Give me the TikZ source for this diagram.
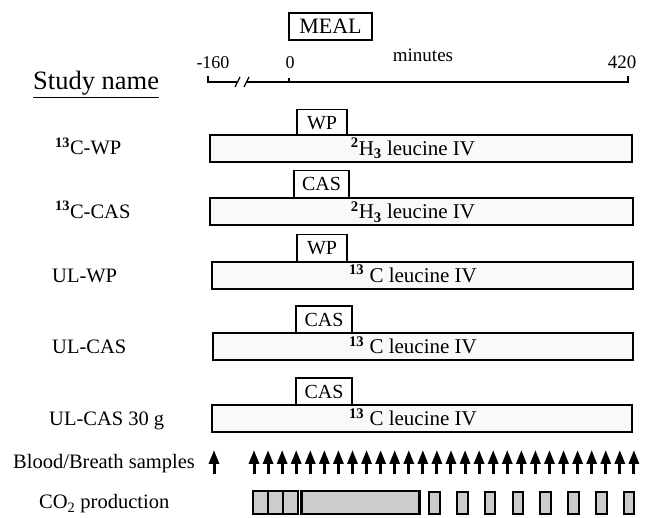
\documentclass[tikz,border=0pt]{standalone}
\usepackage{fontspec}
\setmainfont{Liberation Serif}
\usetikzlibrary{arrows.meta}
\newcommand{\fs}[1]{\fontsize{#1}{#1}\selectfont}
\newcommand{\bsup}[1]{\textsuperscript{\textbf{#1}}}
\newcommand{\bsub}[1]{\textsubscript{\textbf{#1}}}
\tikzset{
  lbl/.style={font=\fs{20.5}, inner sep=0pt, anchor=base west},
  axl/.style={font=\fs{18}, inner sep=0pt, anchor=base},
  bar/.style={draw, line width=2pt, fill=gray!5, minimum height=27pt, inner sep=0pt},
  bartext/.style={font=\fs{21}, inner sep=0pt, anchor=base},
  meal/.style={draw, line width=1.5pt, fill=white, minimum height=27pt, inner sep=0pt, font=\fs{20}},
  co2/.style={draw, line width=2.2pt, fill=gray!40, inner sep=0pt},
  samp/.style={line width=3pt, -{Triangle[length=14pt,width=10pt]}},
}
\begin{document}
\begin{tikzpicture}[x=1pt,y=-1pt]
\useasboundingbox (0,0) rectangle (649,518);
% header
\node[draw, line width=1.5pt, minimum width=83pt, minimum height=27pt, inner sep=0pt, font=\fs{22}] (meal) at (330.5,26.5) {MEAL};
\node[inner sep=0pt, anchor=base west, font=\fs{26.5}] (study) at (33,90) {\underline{Study name}};
\node[axl] (tm160) at (213,69) {-160};
\node[axl] (t0) at (290,69) {0};
\node[axl, font=\fs{19}] (tmin) at (423,62) {minutes};
\node[axl, font=\fs{19}] (t420) at (622,69) {420};
\coordinate (axL) at (208,82);
\coordinate (axB1) at (237,82);
\coordinate (axB2) at (247,82);
\coordinate (axR) at (628,82);
\coordinate (ax0) at (289,82);
\draw[line width=1.5pt] (208,76) -- (axL) -- (axB1);
\draw[line width=1.5pt] (axB2) -- (axR) -- (628,76);
\draw[line width=1.2pt] (289,78) -- (ax0);
\draw[line width=1.2pt] (235,87) -- (240,77);
\draw[line width=1.2pt] (244,87) -- (249,77);
% row 1
\node[lbl] (n1) at (55,155) {\bsup{13}C-WP};
\node[meal, minimum width=50pt] (m1) at (322,123) {WP};
\node[bar, minimum width=422pt] (b1) at (421,148.5) {};
\node[bartext] (t1) at (413,155.5) {\bsup{2}H\bsub{3} leucine IV};
% row 2
\node[lbl] (n2) at (55,218.5) {\bsup{13}C-CAS};
\node[meal, minimum width=55pt] (m2) at (321.5,184) {CAS};
\node[bar, minimum width=423pt] (b2) at (421.5,212) {};
\node[bartext] (t2) at (413,219) {\bsup{2}H\bsub{3} leucine IV};
% row 3
\node[lbl] (n3) at (52,282.5) {UL-WP};
\node[meal, minimum width=50pt] (m3) at (322,248) {WP};
\node[bar, minimum width=421pt] (b3) at (422.5,275.5) {};
\node[bartext] (t3) at (413,282.5) {\bsup{13} C leucine IV};
% row 4
\node[lbl] (n4) at (52,354) {UL-CAS};
\node[meal, minimum width=56pt] (m4) at (324,319.5) {CAS};
\node[bar, minimum width=420pt] (b4) at (423,347) {};
\node[bartext] (t4) at (413,354) {\bsup{13} C leucine IV};
% row 5
\node[lbl] (n5) at (49,426) {UL-CAS 30 g};
\node[meal, minimum width=56pt] (m5) at (324,391.5) {CAS};
\node[bar, minimum width=420pt] (b5) at (422,419) {};
\node[bartext] (t5) at (413,426) {\bsup{13} C leucine IV};
% samples
\node[lbl] (blood) at (13,468.5) {Blood/Breath samples};
\coordinate (s0a) at (214,474);
\coordinate (s0b) at (214,450);
\draw[samp] (s0a) -- (s0b);
\foreach \i in {0,...,27}{
  \coordinate (sa\i) at ({254+\i*14.07},474);
  \coordinate (sb\i) at ({254+\i*14.07},450);
  \draw[samp] (sa\i) -- (sb\i);
}
% CO2
\node[lbl] (co2lbl) at (39,509) {CO\textsubscript{2} production};
\node[co2, minimum width=15pt, minimum height=23pt] (c1) at (260.5,502.5) {};
\node[co2, minimum width=15pt, minimum height=23pt] (c2) at (275.5,502.5) {};
\node[co2, minimum width=15pt, minimum height=23pt] (c3) at (290.5,502.5) {};
\node[co2, minimum width=118pt, minimum height=23pt] (c4) at (360.5,502.5) {};
\foreach \i in {0,...,7}{
  \node[co2, line width=2pt, minimum width=10.5pt, minimum height=22pt] (d\i) at ({434.5+\i*27.8},503) {};
}
\end{tikzpicture}
\end{document}
